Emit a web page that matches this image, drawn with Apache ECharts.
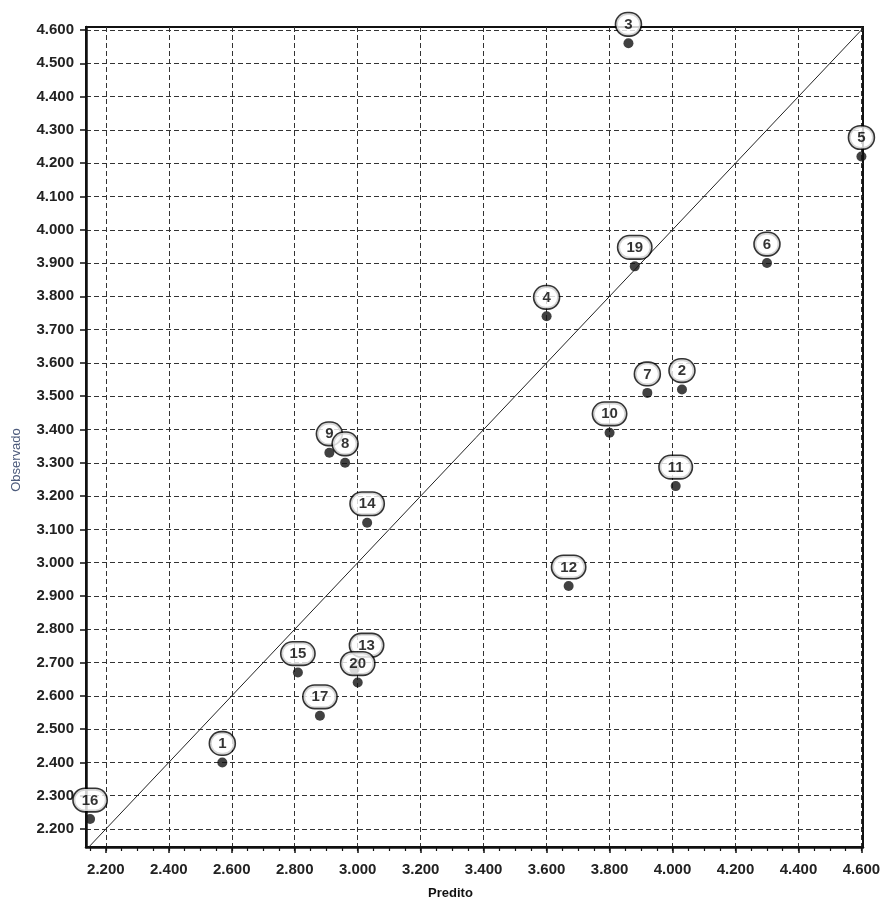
<!DOCTYPE html>
<html>
<head>
<meta charset="utf-8">
<script src="https://cdn.jsdelivr.net/npm/echarts@6/dist/echarts.min.js"></script>
<style>
html,body{margin:0;padding:0;background:#fff;}
#chart{width:886px;height:905px;}
</style>
</head>
<body>
<div id="chart"></div>
<script>
// Point ids (drawing order) and values
const pointIds  = ['1','2','3','4','5','6','7','9','8','10','11','12','13','14','15','16','17','19','20'];
const predito   = [2.57, 4.03, 3.86, 3.60, 4.60, 4.30, 3.92, 2.91, 2.96, 3.80, 4.01, 3.67, 2.99, 3.03, 2.81, 2.15, 2.88, 3.88, 3.00];
const observado = [2.40, 3.52, 4.56, 3.74, 4.22, 3.90, 3.51, 3.33, 3.30, 3.39, 3.23, 2.93, 2.68, 3.12, 2.67, 2.23, 2.54, 3.89, 2.64];

// identity line endpoints (Observado = Predito)
const diagonal = [2.10, 4.70];

// tick labels
const xTicks = [2.2, 2.4, 2.6, 2.8, 3.0, 3.2, 3.4, 3.6, 3.8, 4.0, 4.2, 4.4, 4.6];
const xMinorTicks = [2.15, 2.2, 2.25, 2.3, 2.35, 2.4, 2.45, 2.5, 2.55, 2.6, 2.65, 2.7, 2.75, 2.8, 2.85, 2.9, 2.95, 3.0, 3.05, 3.1, 3.15, 3.2, 3.25, 3.3, 3.35, 3.4, 3.45, 3.5, 3.55, 3.6, 3.65, 3.7, 3.75, 3.8, 3.85, 3.9, 3.95, 4.0, 4.05, 4.1, 4.15, 4.2, 4.25, 4.3, 4.35, 4.4, 4.45, 4.5, 4.55, 4.6];
const yTicks = [2.2, 2.3, 2.4, 2.5, 2.6, 2.7, 2.8, 2.9, 3.0, 3.1, 3.2, 3.3, 3.4, 3.5, 3.6, 3.7, 3.8, 3.9, 4.0, 4.1, 4.2, 4.3, 4.4, 4.5, 4.6];

const X_MIN = 2.137, X_MAX = 4.605, Y_MIN = 2.146, Y_MAX = 4.609;

const labelShift = { '13': [12, -5] };

const pts = pointIds.map((id, i) => ({ name: id, value: [predito[i], observado[i]] }));

const FONT = 'Liberation Sans, Arial, sans-serif';
const chart = echarts.init(document.getElementById('chart'), null, { renderer: 'canvas' });

chart.setOption({
  animation: false,
  backgroundColor: '#fff',
  grid: { left: 86, right: 23, top: 27, bottom: 58, containLabel: false, outerBoundsMode: 'none', show: true, borderColor: '#111', borderWidth: 2, backgroundColor: 'transparent' },
  xAxis: [{
    type: 'value', min: X_MIN, max: X_MAX,
    name: 'Predito', nameLocation: 'middle', nameGap: 40,
    nameTextStyle: { fontFamily: FONT, fontSize: 13, fontWeight: 'bold', color: '#111', padding: [0, 48, 0, 0] },
    axisLine: { show: true, onZero: false, lineStyle: { color: '#111', width: 2.5 } },
    axisTick: { show: true, customValues: xTicks, length: 6, lineStyle: { color: '#111', width: 1.5 } },
    axisLabel: { customValues: xTicks, formatter: v => v.toFixed(3), fontFamily: FONT, fontSize: 15, fontWeight: 'bold', color: '#222', margin: 15 },
    splitLine: { show: true, lineStyle: { color: '#333', type: [5, 3], width: 1 } }
  }, {
    type: 'value', min: X_MIN, max: X_MAX, position: 'bottom',
    axisLine: { show: false },
    axisTick: { show: true, customValues: xMinorTicks, length: 4, lineStyle: { color: '#111', width: 1.2 } },
    axisLabel: { show: false },
    splitLine: { show: false }
  }],
  yAxis: {
    type: 'value', min: Y_MIN, max: Y_MAX,
    name: 'Observado', nameLocation: 'middle', nameGap: 63, nameRotate: 90,
    nameTextStyle: { fontFamily: FONT, fontSize: 13, color: '#4d5b7c', padding: [0, 46, 0, 0] },
    axisLine: { show: true, onZero: false, lineStyle: { color: '#111', width: 2.5 } },
    axisTick: { show: true, customValues: yTicks, length: 6, lineStyle: { color: '#111', width: 1.5 } },
    axisLabel: { customValues: yTicks, formatter: v => v.toFixed(3), fontFamily: FONT, fontSize: 15, fontWeight: 'bold', color: '#222', margin: 12 },
    splitLine: { show: true, lineStyle: { color: '#333', type: [5, 3], width: 1 } }
  },
  series: [{
    type: 'line',
    data: [[diagonal[0], diagonal[0]], [diagonal[1], diagonal[1]]],
    symbol: 'none', clip: true, silent: true,
    lineStyle: { color: '#222', width: 1 },
    z: 3
  }, {
    type: 'scatter',
    data: pts,
    symbol: 'circle', symbolSize: 10,
    itemStyle: { color: '#111' },
    clip: false,
    label: {
      show: true, position: 'top', distance: 3, formatter: '{b}',
      fontFamily: FONT, fontSize: 15, fontWeight: 'bold', color: '#000',
      backgroundColor: '#fff', borderColor: '#000', borderWidth: 1.6, borderRadius: 11,
      padding: [4, 8, 3, 8]
    },
    labelLayout: function (p) {
      const id = pointIds[p.dataIndex];
      const s = labelShift[id];
      return s ? { dx: s[0], dy: s[1], hideOverlap: false } : { hideOverlap: false };
    },
    z: 5
  }]
});
</script>
</body>
</html>
